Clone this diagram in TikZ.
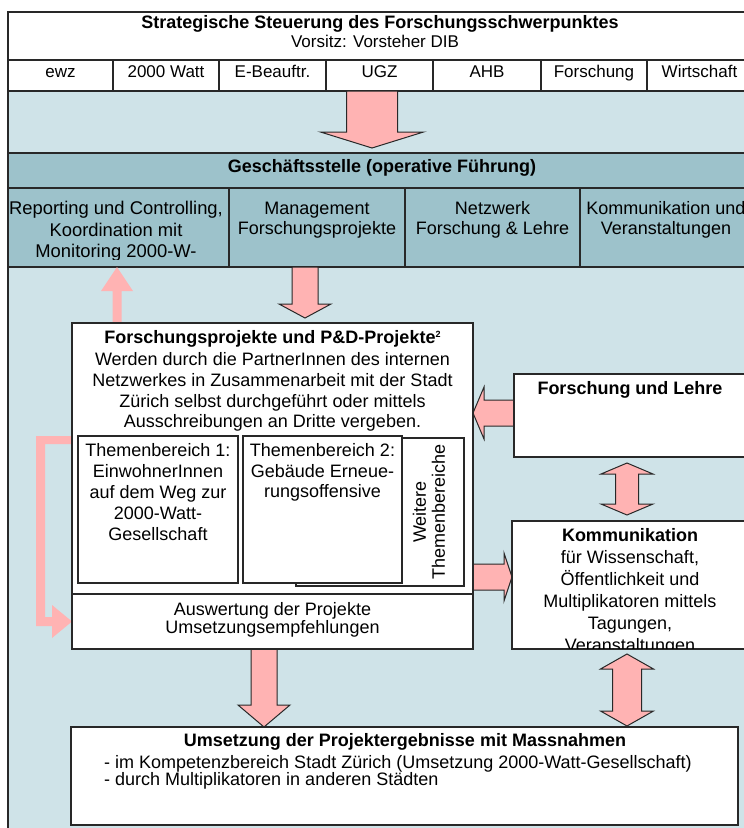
\documentclass[tikz,border=0pt]{standalone}
\usepackage{fontspec}
\setmainfont{Liberation Sans}
\usetikzlibrary{calc}
\definecolor{bgblue}{RGB}{207,227,232}
\definecolor{bandblue}{RGB}{157,194,203}
\definecolor{pinkarr}{RGB}{255,179,179}
\definecolor{edge}{RGB}{40,40,40}
\newcommand\rbox[6][]{\node[box,#1,minimum width={(#5-#3)*1pt},minimum height={(#6-#4)*1pt}] (#2) at (#3,#4) {};}
\newcommand\blockarrow[6][]{%
  \coordinate (ba-hb) at ($(#3)!#6!(#2)$);
  \path[#1] ($(#2)!#4!90:(#3)$) -- ($(ba-hb)!#4!90:(#3)$) -- ($(ba-hb)!#5!90:(#3)$) -- (#3)
    -- ($(ba-hb)!#5!-90:(#3)$) -- ($(ba-hb)!#4!-90:(#3)$) -- ($(#2)!#4!-90:(#3)$) -- cycle;}
\newcommand\dblarrow[6][]{%
  \coordinate (da-h1) at ($(#2)!#6!(#3)$);
  \coordinate (da-h2) at ($(#3)!#6!(#2)$);
  \path[#1] (#2) -- ($(da-h1)!#5!90:(#3)$) -- ($(da-h1)!#4!90:(#3)$) -- ($(da-h2)!#4!-90:(#2)$)
    -- ($(da-h2)!#5!-90:(#2)$) -- (#3) -- ($(da-h2)!#5!90:(#2)$) -- ($(da-h2)!#4!90:(#2)$)
    -- ($(da-h1)!#4!-90:(#3)$) -- ($(da-h1)!#5!-90:(#3)$) -- cycle;}
\begin{document}
\begin{tikzpicture}[x=1pt,y=-1pt,
  box/.style={draw=edge,line width=1.2pt,fill=white,inner sep=0pt,outer sep=0pt,anchor=north west},
  t17/.style={font=\fontsize{17}{17}\selectfont,anchor=base,inner sep=0pt},
  t18/.style={font=\fontsize{18}{18}\selectfont,anchor=base,inner sep=0pt},
  b18/.style={font=\fontsize{18}{18}\selectfont\bfseries,anchor=base,inner sep=0pt},
  arr/.style={draw=edge,line width=1pt,fill=pinkarr,line join=miter},
  arrf/.style={fill=pinkarr,draw=none}]
\useasboundingbox (0,0) rectangle (744,828);
\clip (0,0) rectangle (744,828);
% top table
\rbox{topbox}{8}{12}{752}{60}
\node[b18] (ttitle) at (380,28.5) {Strategische Steuerung des Forschungsschwerpunktes};
\node[t17] (tvor) at (375,47) {Vorsitz: Vorsteher DIB};
\rbox{c1}{8}{60}{113}{91}
\rbox{c2}{113}{60}{219}{91}
\rbox{c3}{219}{60}{326}{91}
\rbox{c4}{326}{60}{433}{91}
\rbox{c5}{433}{60}{541}{91}
\rbox{c6}{541}{60}{647}{91}
\rbox{c7}{647}{60}{752}{91}
\node[t17] (tc1) at (60.5,77) {ewz};
\node[t17] (tc2) at (166,77) {2000 Watt};
\node[t17] (tc3) at (272.5,77) {E-Beauftr.};
\node[t17] (tc4) at (379.5,77) {UGZ};
\node[t17] (tc5) at (487,77) {AHB};
\node[t17] (tc6) at (594,77) {Forschung};
\node[t17] (tc7) at (699.5,77) {Wirtschaft};
% background
\rbox[fill=bgblue]{bg}{8}{91}{752}{840}
% Geschaeftsstelle
\rbox[fill=bandblue]{gs}{8}{153}{752}{188}
\node[b18] (tgs) at (382,172.5) {Geschäftsstelle (operative Führung)};
\rbox[fill=bandblue]{s1}{8}{188}{229}{267}
\rbox[fill=bandblue]{s2}{229}{188}{405}{267}
\rbox[fill=bandblue]{s3}{405}{188}{580}{267}
\rbox[fill=bandblue]{s4}{580}{188}{752}{267}
\begin{scope}
\clip (8,188) rectangle (229,259.5);
\node[t18,font=\fontsize{18.4}{18.4}\selectfont] (ts1a) at (116,214.5) {Reporting und Controlling,};
\node[t18,font=\fontsize{18.4}{18.4}\selectfont] (ts1b) at (116,236.5) {Koordination mit};
\node[t18,font=\fontsize{18.4}{18.4}\selectfont] (ts1c) at (116,257.5) {Monitoring 2000-W-};
\end{scope}
\node[t18] (ts2a) at (317,214.5) {Management};
\node[t18] (ts2b) at (317,234.5) {Forschungsprojekte};
\node[t18] (ts3a) at (492.5,214.5) {Netzwerk};
\node[t18] (ts3b) at (492.5,234.5) {Forschung \& Lehre};
\node[t18] (ts4a) at (666,214.5) {Kommunikation und};
\node[t18] (ts4b) at (666,234.5) {Veranstaltungen};
% arrows
\coordinate (a1s) at (372,91);
\coordinate (a1e) at (372,148);
\blockarrow[arr]{a1s}{a1e}{25.5pt}{51.5pt}{16pt}
\coordinate (a2s) at (305,267);
\coordinate (a2e) at (305,318);
\blockarrow[arr]{a2s}{a2e}{13pt}{26pt}{14pt}
\coordinate (upS) at (117,323);
\coordinate (upE) at (117,267);
\blockarrow[arrf]{upS}{upE}{4.5pt}{16pt}{24pt}
\fill[pinkarr] (72,436) -- (36,436) -- (36,626) -- (52,626) -- (52,638) -- (72,621.5)
  -- (52,605) -- (52,617) -- (45,617) -- (45,444) -- (72,444) -- cycle;
\coordinate (flS) at (514,413);
\coordinate (flE) at (473,413);
\blockarrow[arr]{flS}{flE}{13pt}{26pt}{11pt}
\coordinate (d1a) at (627,463);
\coordinate (d1b) at (627,515);
\dblarrow[arr]{d1a}{d1b}{11.5pt}{26pt}{11pt}
\coordinate (koS) at (473,577);
\coordinate (koE) at (512,577);
\blockarrow[arr]{koS}{koE}{13pt}{24pt}{8pt}
\coordinate (a3s) at (264,649);
\coordinate (a3e) at (264,727);
\blockarrow[arr]{a3s}{a3e}{13pt}{26pt}{22pt}
\coordinate (d2a) at (627,654);
\coordinate (d2b) at (627,726);
\dblarrow[arr]{d2a}{d2b}{14.5pt}{26.5pt}{15pt}
% main project box
\rbox{fp}{72}{323}{473}{594}
\node[b18] (tfp1) at (272.5,343.5) {Forschungsprojekte und P\&D-Projekte\raisebox{6pt}{\fontsize{9}{9}\selectfont 2}};
\node[t18] (tfp2) at (272.5,365.5) {Werden durch die PartnerInnen des internen};
\node[t18] (tfp3) at (272.5,386.5) {Netzwerkes in Zusammenarbeit mit der Stadt};
\node[t18] (tfp4) at (272.5,407.5) {Zürich selbst durchgeführt oder mittels};
\node[t18] (tfp5) at (272.5,427.5) {Ausschreibungen an Dritte vergeben.};
\rbox{tb3}{296}{438}{464}{586}
\node[t18,anchor=center,rotate=90,align=center,font=\fontsize{18}{19}\selectfont] (ttb3) at (429,512) {Weitere\\Themenbereiche};
\rbox{tb1}{78}{436}{238}{583}
\rbox{tb2}{243}{436}{402}{583}
\node[t18] (ttb1a) at (158,456.4) {Themenbereich 1:};
\node[t18] (ttb1b) at (158,477.4) {EinwohnerInnen};
\node[t18] (ttb1c) at (158,498.4) {auf dem Weg zur};
\node[t18] (ttb1d) at (158,519.4) {2000-Watt-};
\node[t18] (ttb1e) at (158,540.4) {Gesellschaft};
\node[t18] (ttb2a) at (322.5,456.4) {Themenbereich 2:};
\node[t18] (ttb2b) at (322.5,477.4) {Gebäude Erneue-};
\node[t18] (ttb2c) at (322.5,497.4) {rungsoffensive};
\rbox{aw}{72}{594}{473}{649}
\node[t18] (taw1) at (272.5,615.4) {Auswertung der Projekte};
\node[t18] (taw2) at (272.5,633.4) {Umsetzungsempfehlungen};
% right boxes
\rbox{fl}{514}{374}{752}{457}
\node[b18] (tfl) at (630,394.4) {Forschung und Lehre};
\rbox{ko}{512}{521}{752}{649}
\begin{scope}
\clip (512,521) rectangle (752,648.4);
\node[b18] (tko1) at (630,541) {Kommunikation};
\node[t18] (tko2) at (630,563) {für Wissenschaft,};
\node[t18] (tko3) at (630,585) {Öffentlichkeit und};
\node[t18] (tko4) at (630,607) {Multiplikatoren mittels};
\node[t18] (tko5) at (630,629) {Tagungen,};
\node[t18] (tko6) at (630,651) {Veranstaltungen};
\end{scope}
% bottom box
\rbox{um}{71}{727}{738}{825}
\node[b18] (tum1) at (405,746) {Umsetzung der Projektergebnisse mit Massnahmen};
\node[t18,anchor=base west] (tum2) at (104,768) {- im Kompetenzbereich Stadt Zürich (Umsetzung 2000-Watt-Gesellschaft)};
\node[t18,anchor=base west] (tum3) at (104,785) {- durch Multiplikatoren in anderen Städten};
\end{tikzpicture}
\end{document}
